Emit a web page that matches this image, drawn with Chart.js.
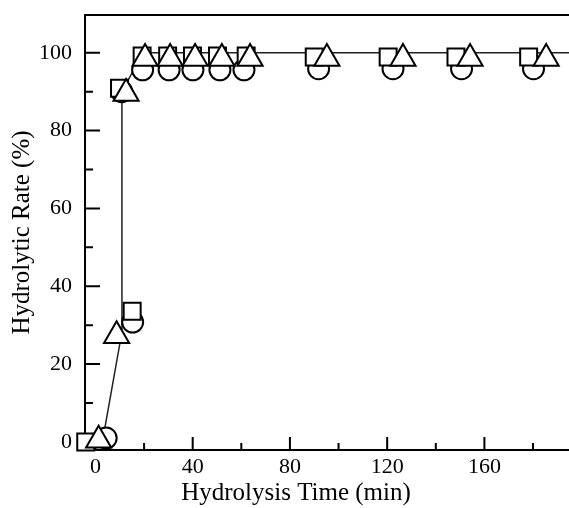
<!DOCTYPE html>
<html><head><meta charset="utf-8">
<script src="https://cdn.jsdelivr.net/npm/chart.js@4/dist/chart.umd.min.js"></script>
<style>html,body{margin:0;padding:0;background:#fff;overflow:hidden}</style>
</head><body>
<canvas id="c" width="569" height="508"></canvas>
<script>
const xTitle = 'Hydrolysis Time (min)';
const yTitle = 'Hydrolytic Rate (%)';
const xMajorTicks = [0, 40, 80, 120, 160];
const xMinorTicks = [20, 60, 100, 140, 180];
const yMajorTicks = [0, 20, 40, 60, 80, 100];
const yMinorTicks = [10, 30, 50, 70, 90];

const squareTime = [-4, 9.9, 15.1, 19.2, 29.7, 39.9, 50.2, 62, 90, 120.4, 148.3, 178.2];
const squareRate = [0, 90.9, 33.6, 99.2, 99.2, 99.2, 99.2, 99.2, 98.9, 98.9, 98.9, 98.9];
const circleTime = [4.4, 15.3, 10.8, 19.4, 30.3, 40.1, 51.2, 61.1, 91.8, 122.4, 150.6, 180.2];
const circleRate = [1.0, 30.8, 90.0, 95.6, 95.6, 95.6, 95.6, 95.6, 95.9, 95.9, 95.9, 95.9];
const triangleTime = [1.3, 8.7, 12.6, 20.4, 30.7, 41, 52, 63.6, 95.2, 126.5, 154.1, 185.4];
const triangleRate = [0.4, 27.3, 89.5, 98.5, 98.5, 98.5, 98.5, 98.5, 98.5, 98.5, 98.5, 98.5];
const lineTime = [3, 10.9, 10.9, 19.5, 194.8];
const lineRate = [0.5, 28.3, 90, 100, 100];

const zip = (xs, ys) => xs.map((x, i) => ({x: x, y: ys[i]}));
const FONT = 'Liberation Serif';

const decoPlugin = {
  id: 'deco',
  beforeDatasetsDraw(chart) {
    const {ctx, chartArea: {left, right, top}, scales: {x, y}} = chart;
    ctx.save();
    ctx.strokeStyle = '#000';
    ctx.lineWidth = 2;
    ctx.beginPath();
    ctx.moveTo(left - 1, top); ctx.lineTo(right, top);
    const xb = x.top;
    xMajorTicks.forEach(v => { const p = x.getPixelForValue(v); ctx.moveTo(p, xb); ctx.lineTo(p, xb - 13); });
    xMinorTicks.forEach(v => { const p = x.getPixelForValue(v); ctx.moveTo(p, xb); ctx.lineTo(p, xb - 7); });
    const yl = y.right;
    yMajorTicks.forEach(v => { const p = y.getPixelForValue(v); ctx.moveTo(yl, p); ctx.lineTo(yl + 15, p); });
    yMinorTicks.forEach(v => { const p = y.getPixelForValue(v); ctx.moveTo(yl, p); ctx.lineTo(yl + 8, p); });
    ctx.stroke();
    ctx.restore();
  },
  afterDraw(chart) {
    const {ctx} = chart;
    ctx.save();
    ctx.fillStyle = '#000';
    ctx.font = '25px "' + FONT + '"';
    ctx.textAlign = 'center';
    ctx.textBaseline = 'middle';
    ctx.fillText(xTitle, 296, 493);
    ctx.restore();
  }
};

const markerBase = {showLine: false, clip: false, borderColor: '#000', pointBorderColor: '#000',
  backgroundColor: '#fff', pointBackgroundColor: '#fff', pointBorderWidth: 2, borderWidth: 2};

new Chart(document.getElementById('c'), {
  type: 'scatter',
  data: {
    datasets: [
      Object.assign({label: 'triangle', data: zip(triangleTime, triangleRate), pointStyle: 'triangle', pointRadius: 14.5, pointHoverRadius: 14.5}, markerBase),
      Object.assign({label: 'square', data: zip(squareTime, squareRate), pointStyle: 'rect', pointRadius: 12, pointHoverRadius: 12}, markerBase),
      Object.assign({label: 'circle', data: zip(circleTime, circleRate), pointStyle: 'circle', pointRadius: 10.5, pointHoverRadius: 10.5}, markerBase),
      {label: 'line', data: zip(lineTime, lineRate), showLine: true, clip: false, pointRadius: 0, borderColor: '#222', borderWidth: 1.5, tension: 0}
    ]
  },
  options: {
    responsive: false, animation: false, devicePixelRatio: 1,
    layout: {autoPadding: false, padding: {top: 15, right: 0, left: 0, bottom: 0}},
    plugins: {legend: {display: false}, tooltip: {enabled: false}},
    scales: {
      x: {
        type: 'linear', position: 'bottom', min: -4.3, max: 194.8,
        afterBuildTicks: s => { s.ticks = xMajorTicks.map(v => ({value: v})); },
        ticks: {font: {family: FONT, size: 22}, color: '#000', padding: 4, maxRotation: 0, autoSkip: false},
        grid: {display: false, drawTicks: false},
        border: {display: true, color: '#000', width: 2},
        afterFit: s => { s.height = 58; s.paddingLeft = 0; s.paddingRight = 0; }
      },
      y: {
        type: 'linear', position: 'left', min: -2.08, max: 109.7,
        afterBuildTicks: s => { s.ticks = yMajorTicks.map(v => ({value: v})); },
        ticks: {font: {family: FONT, size: 22}, color: '#000', padding: 13, autoSkip: false},
        grid: {display: false, drawTicks: false},
        border: {display: true, color: '#000', width: 2},
        title: {display: true, text: yTitle, color: '#000', font: {family: FONT, size: 25}, padding: {top: 7, bottom: 0}},
        afterFit: s => { s.width = 85; s.paddingTop = 0; s.paddingBottom = 0; }
      }
    }
  },
  plugins: [decoPlugin]
});
</script>
</body></html>
